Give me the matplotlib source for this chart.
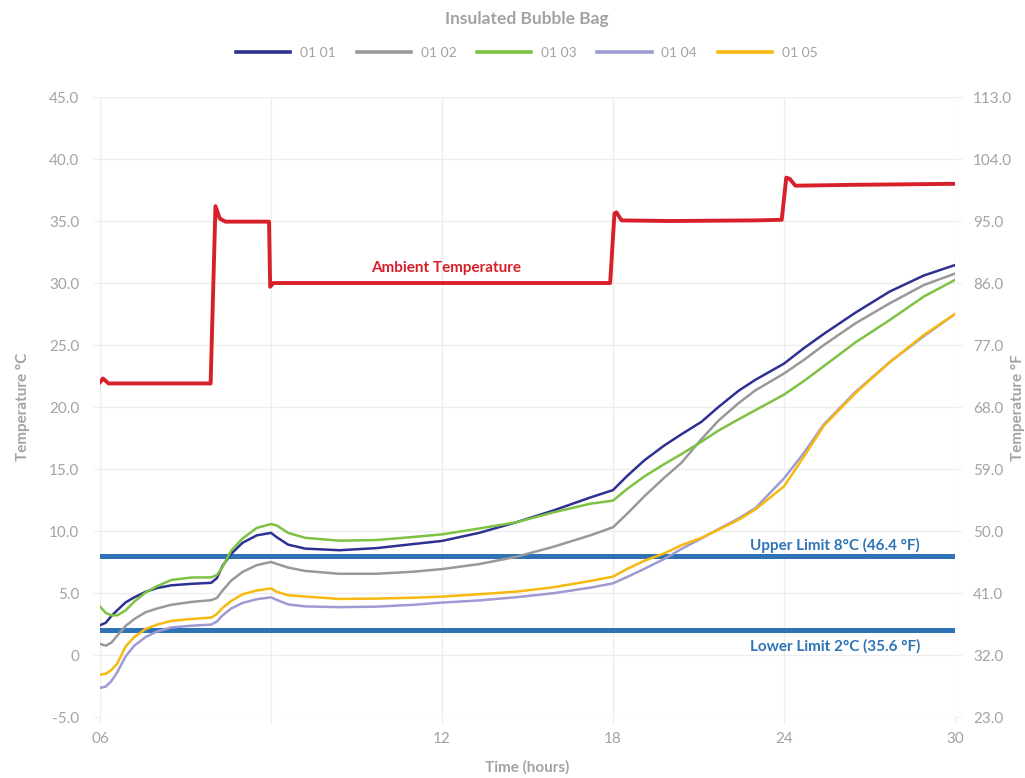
import numpy as np
import matplotlib
matplotlib.use('Agg')
import matplotlib.pyplot as plt

plt.rcParams['font.family'] = ['Lato', 'DejaVu Sans']

# elapsed hours shared by the five product probes
hours = [0, 0.2, 0.4, 0.6, 0.9, 1.2, 1.6, 2.0, 2.5, 3.2, 3.9, 4.1, 4.3, 4.6, 5.0, 5.5,
         6.0, 6.2, 6.6, 7.2, 8.4, 9.7, 11.0, 12.0, 13.3, 14.6, 15.9, 17.2, 18.0, 18.5,
         19.1, 19.8, 20.4, 21.1, 21.7, 22.4, 23.0, 24.0, 24.7, 25.4, 26.5, 27.7, 28.9, 30.0]

probe_0101 = [2.4, 2.6, 3.15, 3.6, 4.25, 4.65, 5.1, 5.4, 5.62, 5.74, 5.82, 6.2, 7.2, 8.15, 9.05, 9.65,
              9.85, 9.5, 8.9, 8.58, 8.45, 8.62, 8.95, 9.2, 9.85, 10.7, 11.65, 12.7, 13.3, 14.45,
              15.7, 16.9, 17.8, 18.8, 20.0, 21.3, 22.2, 23.5, 24.75, 25.9, 27.6, 29.3, 30.6, 31.45]
probe_0102 = [0.9, 0.75, 1.0, 1.55, 2.35, 2.9, 3.45, 3.75, 4.05, 4.28, 4.42, 4.6, 5.2, 6.0, 6.7, 7.25,
              7.5, 7.35, 7.05, 6.78, 6.55, 6.55, 6.72, 6.93, 7.33, 7.92, 8.72, 9.65, 10.3, 11.4,
              12.8, 14.3, 15.5, 17.4, 18.9, 20.3, 21.35, 22.7, 23.8, 25.0, 26.74, 28.35, 29.83, 30.76]
probe_0103 = [3.9, 3.4, 3.2, 3.2, 3.6, 4.3, 5.05, 5.55, 6.05, 6.25, 6.26, 6.45, 7.1, 8.4, 9.4, 10.25,
              10.56, 10.45, 9.85, 9.45, 9.22, 9.27, 9.52, 9.73, 10.2, 10.7, 11.5, 12.2, 12.45, 13.4,
              14.4, 15.4, 16.2, 17.2, 18.1, 19.0, 19.75, 21.0, 22.1, 23.3, 25.2, 27.0, 28.9, 30.25]
probe_0104 = [-2.65, -2.55, -2.1, -1.4, -0.1, 0.75, 1.45, 1.9, 2.22, 2.36, 2.45, 2.7, 3.2, 3.75, 4.2, 4.5,
              4.65, 4.45, 4.08, 3.92, 3.86, 3.9, 4.05, 4.23, 4.4, 4.66, 4.98, 5.43, 5.78, 6.3,
              6.95, 7.75, 8.55, 9.4, 10.15, 11.0, 11.85, 14.25, 16.3, 18.6, 21.2, 23.6, 25.7, 27.5]
probe_0105 = [-1.58, -1.52, -1.2, -0.7, 0.7, 1.45, 2.1, 2.45, 2.75, 2.9, 3.02, 3.3, 3.8, 4.35, 4.9, 5.2,
              5.37, 5.1, 4.82, 4.72, 4.52, 4.55, 4.62, 4.71, 4.9, 5.11, 5.46, 5.97, 6.32, 6.95,
              7.6, 8.2, 8.85, 9.45, 10.1, 10.9, 11.75, 13.6, 16.0, 18.5, 21.1, 23.6, 25.8, 27.5]

ambient_hours = [0, 0.1, 0.3, 3.88, 4.05, 4.2, 4.4, 5.93, 5.97, 6.08, 6.3, 17.9, 18.05, 18.12,
                 18.3, 20.0, 23.0, 23.92, 24.08, 24.2, 24.4, 26.5, 30.0]
ambient = [22.0, 22.3, 21.9, 21.9, 36.2, 35.2, 34.95, 34.95, 29.7, 30.0, 30.0, 30.0, 35.6, 35.7,
           35.05, 35.0, 35.05, 35.1, 38.5, 38.4, 37.85, 37.92, 38.0]

series_names = ['01 01', '01 02', '01 03', '01 04', '01 05']
series_values = [probe_0101, probe_0102, probe_0103, probe_0104, probe_0105]
series_colors = ['#2e3192', '#999999', '#7dc242', '#9d9bd2', '#f7b90f']

upper_limit = 8
lower_limit = 2

x_ticks = [0, 6, 12, 18, 24, 30]
x_labels = ['06', '', '12', '18', '24', '30']
c_ticks = [-5, 0, 5, 10, 15, 20, 25, 30, 35, 40, 45]
c_labels = ['-5.0', '0', '5.0', '10.0', '15.0', '20.0', '25.0', '30.0', '35.0', '40.0', '45.0']
f_ticks = [23, 32, 41, 50, 59, 68, 77, 86, 95, 104, 113]

grey = '#a3a3a3'
grid_c = '#eeeeee'

fig = plt.figure(figsize=(10.25, 7.78), dpi=100)
ax = fig.add_axes([0.0976, 0.0784, 0.8341, 0.7969])

ax.axhline(upper_limit, color='#2f73b6', lw=3.6, zorder=2)
ax.axhline(lower_limit, color='#2f73b6', lw=3.6, zorder=2)

ax.plot(ambient_hours, ambient, color='#d7202a', lw=2.8, solid_joinstyle='round', zorder=4)

for name, vals, col in zip(series_names, series_values, series_colors):
    ax.plot(hours, vals, color=col, lw=1.8, label=name, zorder=3)

ax.set_xlim(0, 30)
ax.set_ylim(-5, 45)
ax.set_xticks(x_ticks)
ax.set_xticklabels(x_labels)
ax.set_yticks(c_ticks)
ax.set_yticklabels(c_labels)
ax.grid(True, color=grid_c, lw=1)
ax.set_axisbelow(True)
for s in ax.spines.values():
    s.set_visible(False)
ax.tick_params(axis='both', colors=grid_c, labelcolor=grey, labelsize=11, length=5)
ax.tick_params(axis='y', pad=10)
ax.tick_params(axis='x', pad=6)

ax2 = ax.twinx()
ax2.set_ylim(23, 113)
ax2.set_yticks(f_ticks)
ax2.set_yticklabels([f'{v:.1f}' for v in f_ticks])
for s in ax2.spines.values():
    s.set_visible(False)
ax2.tick_params(axis='y', colors=grid_c, labelcolor=grey, labelsize=11, length=5, pad=8)

ax.set_ylabel('Temperature °C', color=grey, fontsize=11, fontweight='bold', labelpad=14)
fig.text(0.9935, 0.4765, 'Temperature °F', color=grey, fontsize=11, fontweight='bold',
         rotation=90, ha='center', va='center')
ax.set_xlabel('Time (hours)', color=grey, fontsize=11, fontweight='bold', labelpad=10)

ax.text(12.14, 31.2, 'Ambient Temperature', color='#d7202a', fontsize=11, fontweight='bold',
        ha='center', va='center')
ax.text(25.8, 8.87, 'Upper Limit 8°C (46.4 °F)', color='#2f73b6', fontsize=11, fontweight='bold',
        ha='center', va='center')
ax.text(25.8, 0.73, 'Lower Limit 2°C (35.6 °F)', color='#2f73b6', fontsize=11, fontweight='bold',
        ha='center', va='center')

fig.text(0.514, 0.9756, 'Insulated Bubble Bag', color=grey, fontsize=12.5, fontweight='bold',
         ha='center', va='center')
handles, labels = ax.get_legend_handles_labels()
leg = fig.legend(handles, labels, loc='center', bbox_to_anchor=(0.514, 0.932), ncol=5,
                 frameon=False, fontsize=10, handlelength=3.9, handletextpad=0.7,
                 columnspacing=1.5)
for line in leg.get_lines():
    line.set_linewidth(2.6)
for t in leg.get_texts():
    t.set_color(grey)

fig.savefig('out.png', dpi=100)
